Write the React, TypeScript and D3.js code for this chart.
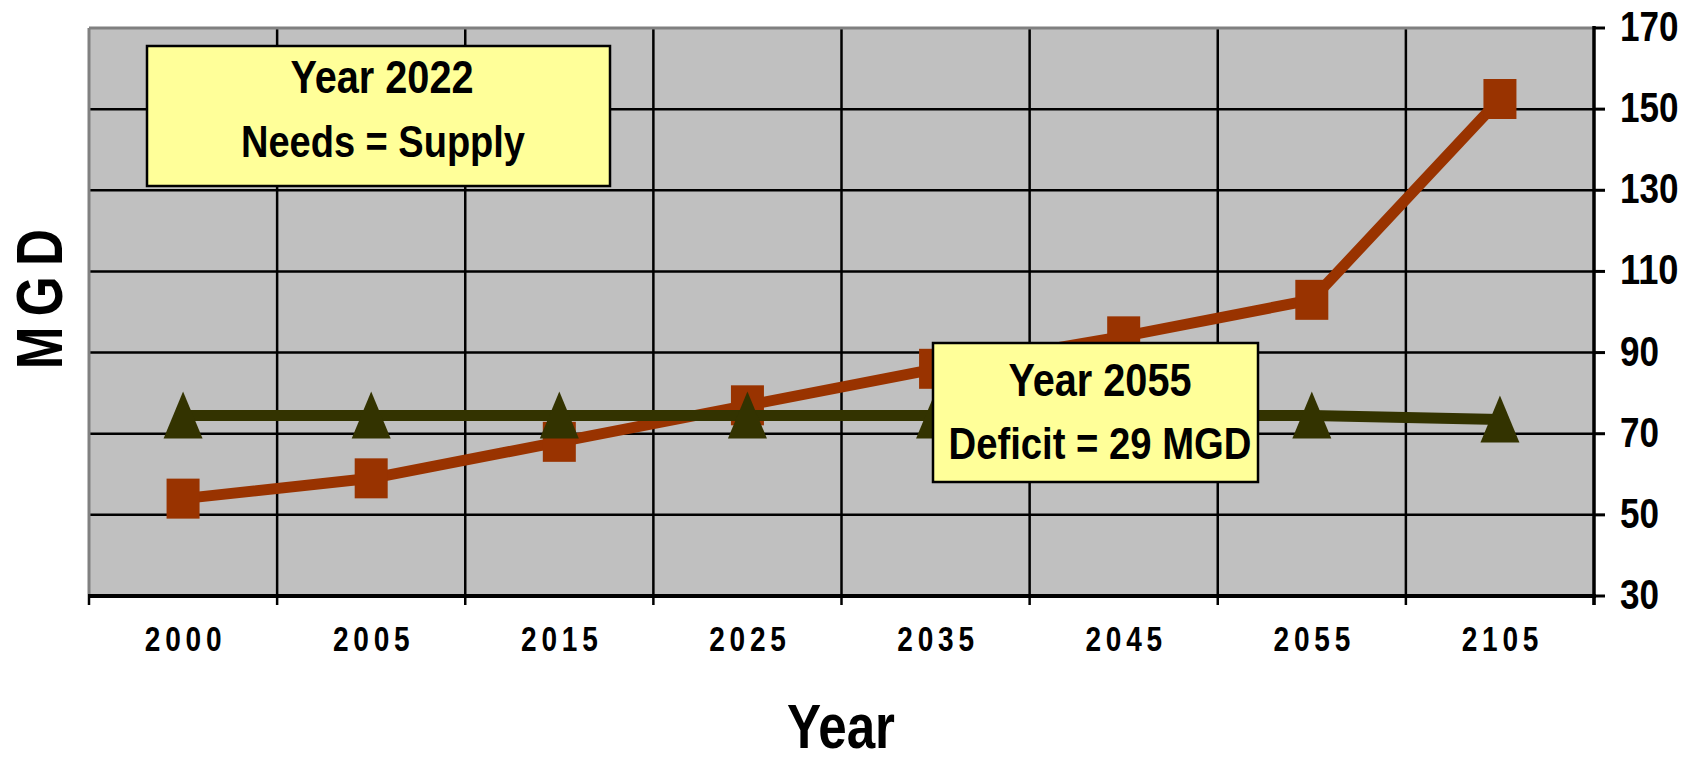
import React from "react";
import * as d3 from "d3";

const years = ["2000", "2005", "2015", "2025", "2035", "2045", "2055", "2105"];
const needs = [54, 59, 68, 77, 86, 94, 103, 152.5];
const supply = [74.5, 74.5, 74.5, 74.5, 74.5, 74.5, 74.5, 73.5];
const yTicks = [30, 50, 70, 90, 110, 130, 150, 170];

const W = 1695;
const H = 760;
const plot = { left: 89, right: 1594, top: 28, bottom: 596 };
const FONT = "'Liberation Sans', Arial, sans-serif";

const App: React.FC = () => {
  const x = d3
    .scaleBand<string>()
    .domain(years)
    .range([plot.left, plot.right])
    .padding(0);
  const y = d3.scaleLinear().domain([30, 170]).range([plot.bottom, plot.top]);
  const cx = (d: string) => (x(d) || 0) + x.bandwidth() / 2;

  const boundaries = d3.range(years.length + 1).map((i) => plot.left + i * x.bandwidth());

  const line = d3
    .line<number>()
    .x((_, i) => cx(years[i]))
    .y((d) => y(d));

  const tri = (px: number, py: number) =>
    `M${px},${py - 24} L${px + 19.5},${py + 23} L${px - 19.5},${py + 23} Z`;

  return (
    <svg
      width={W}
      height={H}
      style={{ position: "absolute", left: 0, top: 0, display: "block", background: "#fff" }}
      fontFamily={FONT}
      fontWeight="bold"
    >
      <rect
        x={plot.left}
        y={plot.top}
        width={plot.right - plot.left}
        height={plot.bottom - plot.top}
        fill="#C0C0C0"
      />
      {/* grid */}
      {yTicks
        .filter((t) => t > 30 && t < 170)
        .map((t) => (
          <line key={t} x1={plot.left} x2={plot.right} y1={y(t)} y2={y(t)} stroke="#000" strokeWidth={2.5} />
        ))}
      {boundaries.slice(1, -1).map((b, i) => (
        <line key={i} x1={b} x2={b} y1={plot.top} y2={plot.bottom} stroke="#000" strokeWidth={2.5} />
      ))}
      {/* frame */}
      <line x1={plot.left} x2={plot.right} y1={plot.top} y2={plot.top} stroke="#808080" strokeWidth={3} />
      <line x1={plot.left} x2={plot.left} y1={plot.top} y2={plot.bottom} stroke="#808080" strokeWidth={3} />
      <line x1={plot.left - 1} x2={plot.right + 2} y1={plot.bottom} y2={plot.bottom} stroke="#000" strokeWidth={4} />
      <line x1={plot.right} x2={plot.right} y1={plot.top - 2} y2={plot.bottom + 9} stroke="#000" strokeWidth={3.5} />
      {boundaries.map((b, i) => (
        <line key={i} x1={b} x2={b} y1={plot.bottom} y2={plot.bottom + 9} stroke="#000" strokeWidth={2.5} />
      ))}
      {yTicks.map((t) => (
        <line key={t} x1={plot.right} x2={plot.right + 11} y1={y(t)} y2={y(t)} stroke="#000" strokeWidth={3} />
      ))}
      {/* y labels */}
      {yTicks.map((t) => (
        <text
          key={t}
          x={plot.right + 26}
          y={y(t) + 13}
          fontSize={42}
          textLength={String(t).length * 19.5}
          lengthAdjust="spacingAndGlyphs"
        >
          {t}
        </text>
      ))}
      {/* x labels */}
      {years.map((d) => (
        <text
          key={d}
          transform={`translate(${cx(d) + 2.5},651) scale(0.8,1)`}
          fontSize={35}
          textAnchor="middle"
          letterSpacing={6}
        >
          {d}
        </text>
      ))}
      {/* series */}
      <path d={line(needs) || ""} fill="none" stroke="#993300" strokeWidth={11} strokeLinejoin="round" />
      {needs.map((v, i) => (
        <rect key={i} x={cx(years[i]) - 16.5} y={y(v) - 20} width={33} height={40} fill="#993300" />
      ))}
      <path d={line(supply) || ""} fill="none" stroke="#333300" strokeWidth={11} strokeLinejoin="round" />
      {supply.map((v, i) => (
        <path key={i} d={tri(cx(years[i]), y(v))} fill="#333300" />
      ))}
      {/* annotations */}
      <rect x={147} y={46} width={463} height={140} fill="#FFFF99" stroke="#000" strokeWidth={2.5} />
      <text x={382} y={93} fontSize={46} textAnchor="middle" textLength={183} lengthAdjust="spacingAndGlyphs">
        Year 2022
      </text>
      <text x={383} y={157} fontSize={45} textAnchor="middle" textLength={284} lengthAdjust="spacingAndGlyphs">
        Needs = Supply
      </text>
      <rect x={933} y={343} width={325} height={139} fill="#FFFF99" stroke="#000" strokeWidth={2.5} />
      <text x={1100} y={396} fontSize={47} textAnchor="middle" textLength={183} lengthAdjust="spacingAndGlyphs">
        Year 2055
      </text>
      <text x={1100} y={459} fontSize={44} textAnchor="middle" textLength={303} lengthAdjust="spacingAndGlyphs">
        Deficit = 29 MGD
      </text>
      {/* axis titles */}
      <text x={841} y={748} fontSize={63} textAnchor="middle" textLength={108} lengthAdjust="spacingAndGlyphs">
        Year
      </text>
      <text
        transform="translate(62,294) rotate(-90) scale(0.8,1)"
        fontSize={64}
        textAnchor="middle"
        letterSpacing={13}
      >
        MGD
      </text>
    </svg>
  );
};

export default App;
